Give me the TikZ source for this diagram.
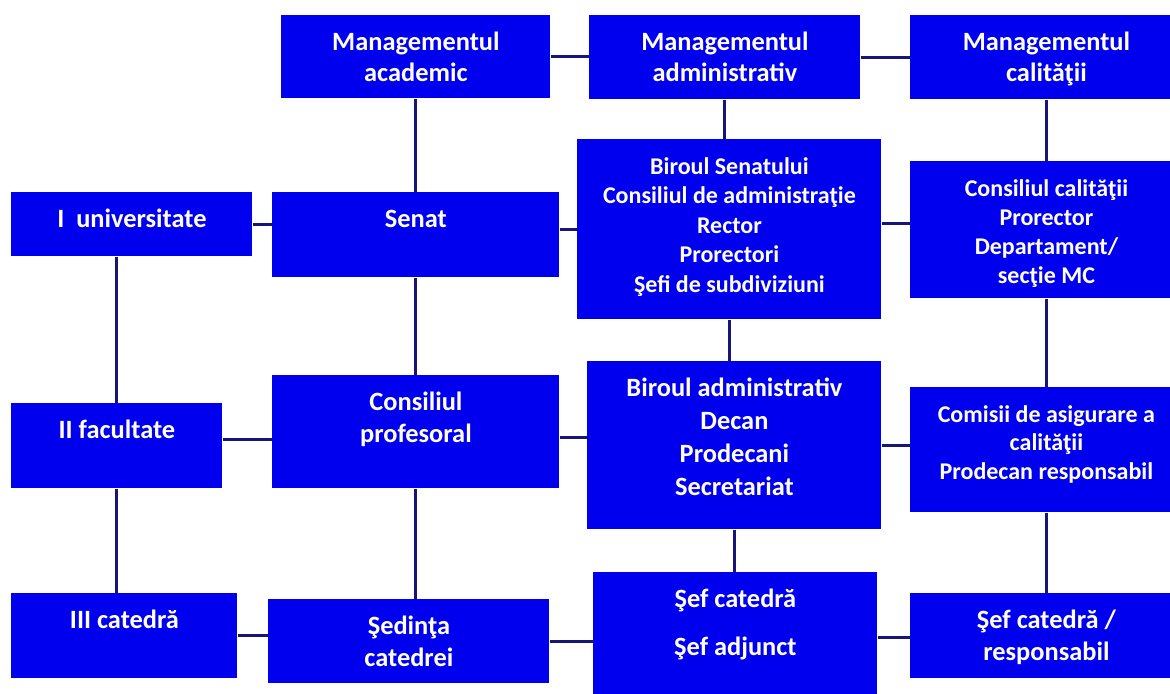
\documentclass[tikz,border=0pt]{standalone}
\usepackage{fontspec}
\setmainfont{Carlito}
\usepackage{tikz}

% top aligned text block inside a unit box
\newcommand{\unittext}[3]{\parbox[c][#2][t]{#1}{\centering\rule{0pt}{17.5pt}#3}}

\begin{document}
\begin{tikzpicture}[x=0.5pt,y=-0.5pt,
  unit/.style={fill=boxColor,text=white,inner sep=0pt,anchor=north west,font=\bfseries\fontsize{13.2}{16}\selectfont},
  unitSmall/.style={unit,font=\bfseries\fontsize{12}{14.5}\selectfont},
  link/.style={draw=lineColor,line width=1.5pt}]
\definecolor{boxColor}{RGB}{0,0,238}
\definecolor{lineColor}{RGB}{22,22,120}
\useasboundingbox (0,0) rectangle (1170,694);
% top row
\node[unit,font=\bfseries\fontsize{13.2}{15.5}\selectfont] (acad) at (281,15) {\unittext{134.5pt}{41.5pt}{Managementul\\academic}};
\node[unit,font=\bfseries\fontsize{13.2}{15.5}\selectfont] (admin) at (589,15) {\unittext{135.5pt}{42pt}{Managementul\\administrativ}};
\node[unit,font=\bfseries\fontsize{13.2}{15.5}\selectfont] (calit) at (910,15) {\unittext{136pt}{42pt}{Managementul\\calităţii}};
% level I
\node[unit] (iuniv) at (11,192) {\unittext{120.5pt}{32pt}{I\ \ universitate}};
\node[unit] (senat) at (272,192) {\unittext{143.5pt}{42.5pt}{Senat}};
\node[unitSmall,font=\bfseries\fontsize{12}{14.75}\selectfont] (birsen) at (577,139) {\unittext{152pt}{90pt}{\rule{0pt}{16pt}Biroul Senatului\\Consiliul de administraţie\\Rector\\Prorectori\\Şefi de subdiviziuni}};
\node[unitSmall] (conscal) at (910,161) {\unittext{136pt}{68.5pt}{Consiliul calităţii\\Prorector\\Departament/\\secţie MC}};
% level II
\node[unit] (iifac) at (11,403) {\unittext{105.5pt}{42.5pt}{II facultate}};
\node[unit] (consprof) at (272,375) {\unittext{143.5pt}{56.5pt}{Consiliul\\profesoral}};
\node[unit,font=\bfseries\fontsize{13.2}{16.5}\selectfont] (biradm) at (587,361) {\unittext{147pt}{84pt}{Biroul administrativ\\Decan\\Prodecani\\Secretariat}};
\node[unitSmall,font=\bfseries\fontsize{12}{14.25}\selectfont] (comisii) at (910,387) {\unittext{136pt}{62.5pt}{Comisii de asigurare a\\calităţii\\Prodecan responsabil}};
% level III
\node[unit] (iiicat) at (11,593) {\unittext{113pt}{42.5pt}{III catedră}};
\node[unit] (sedinta) at (268,599) {\unittext{140.5pt}{42pt}{Şedinţa\\catedrei}};
\node[unit] (sefcat) at (593,572) {\unittext{142pt}{65pt}{Şef catedră\\[8pt]Şef adjunct}};
\node[unit] (sefresp) at (910,593) {\unittext{136pt}{42.5pt}{Şef catedră /\\responsabil}};
% connectors
\foreach \a/\b in {acad/admin,admin/calit,iuniv/senat,biradm/comisii,iiicat/sedinta,sedinta/sefcat,sefcat/sefresp}
  \draw[link] (\a.east) -- (\a.east -| \b.west);
\draw[link] (birsen.west -| senat.east) -- (birsen.west);
\draw[link] ([yshift=3pt]birsen.east) -- ([yshift=3pt]birsen.east -| conscal.west);
\draw[link] ([yshift=3pt]iifac.east) -- ([yshift=3pt]iifac.east -| consprof.west);
\draw[link] ([yshift=-3pt]consprof.east) -- ([yshift=-3pt]consprof.east -| biradm.west);
\foreach \a/\b in {acad/senat,admin/birsen,calit/conscal,senat/consprof,birsen/biradm,conscal/comisii,iifac/iiicat,consprof/sedinta,biradm/sefcat,comisii/sefresp}
  \draw[link] (\a.south) -- (\a.south |- \b.north);
\draw[link] (iifac.north |- iuniv.south) -- (iifac.north);
\end{tikzpicture}
\end{document}
